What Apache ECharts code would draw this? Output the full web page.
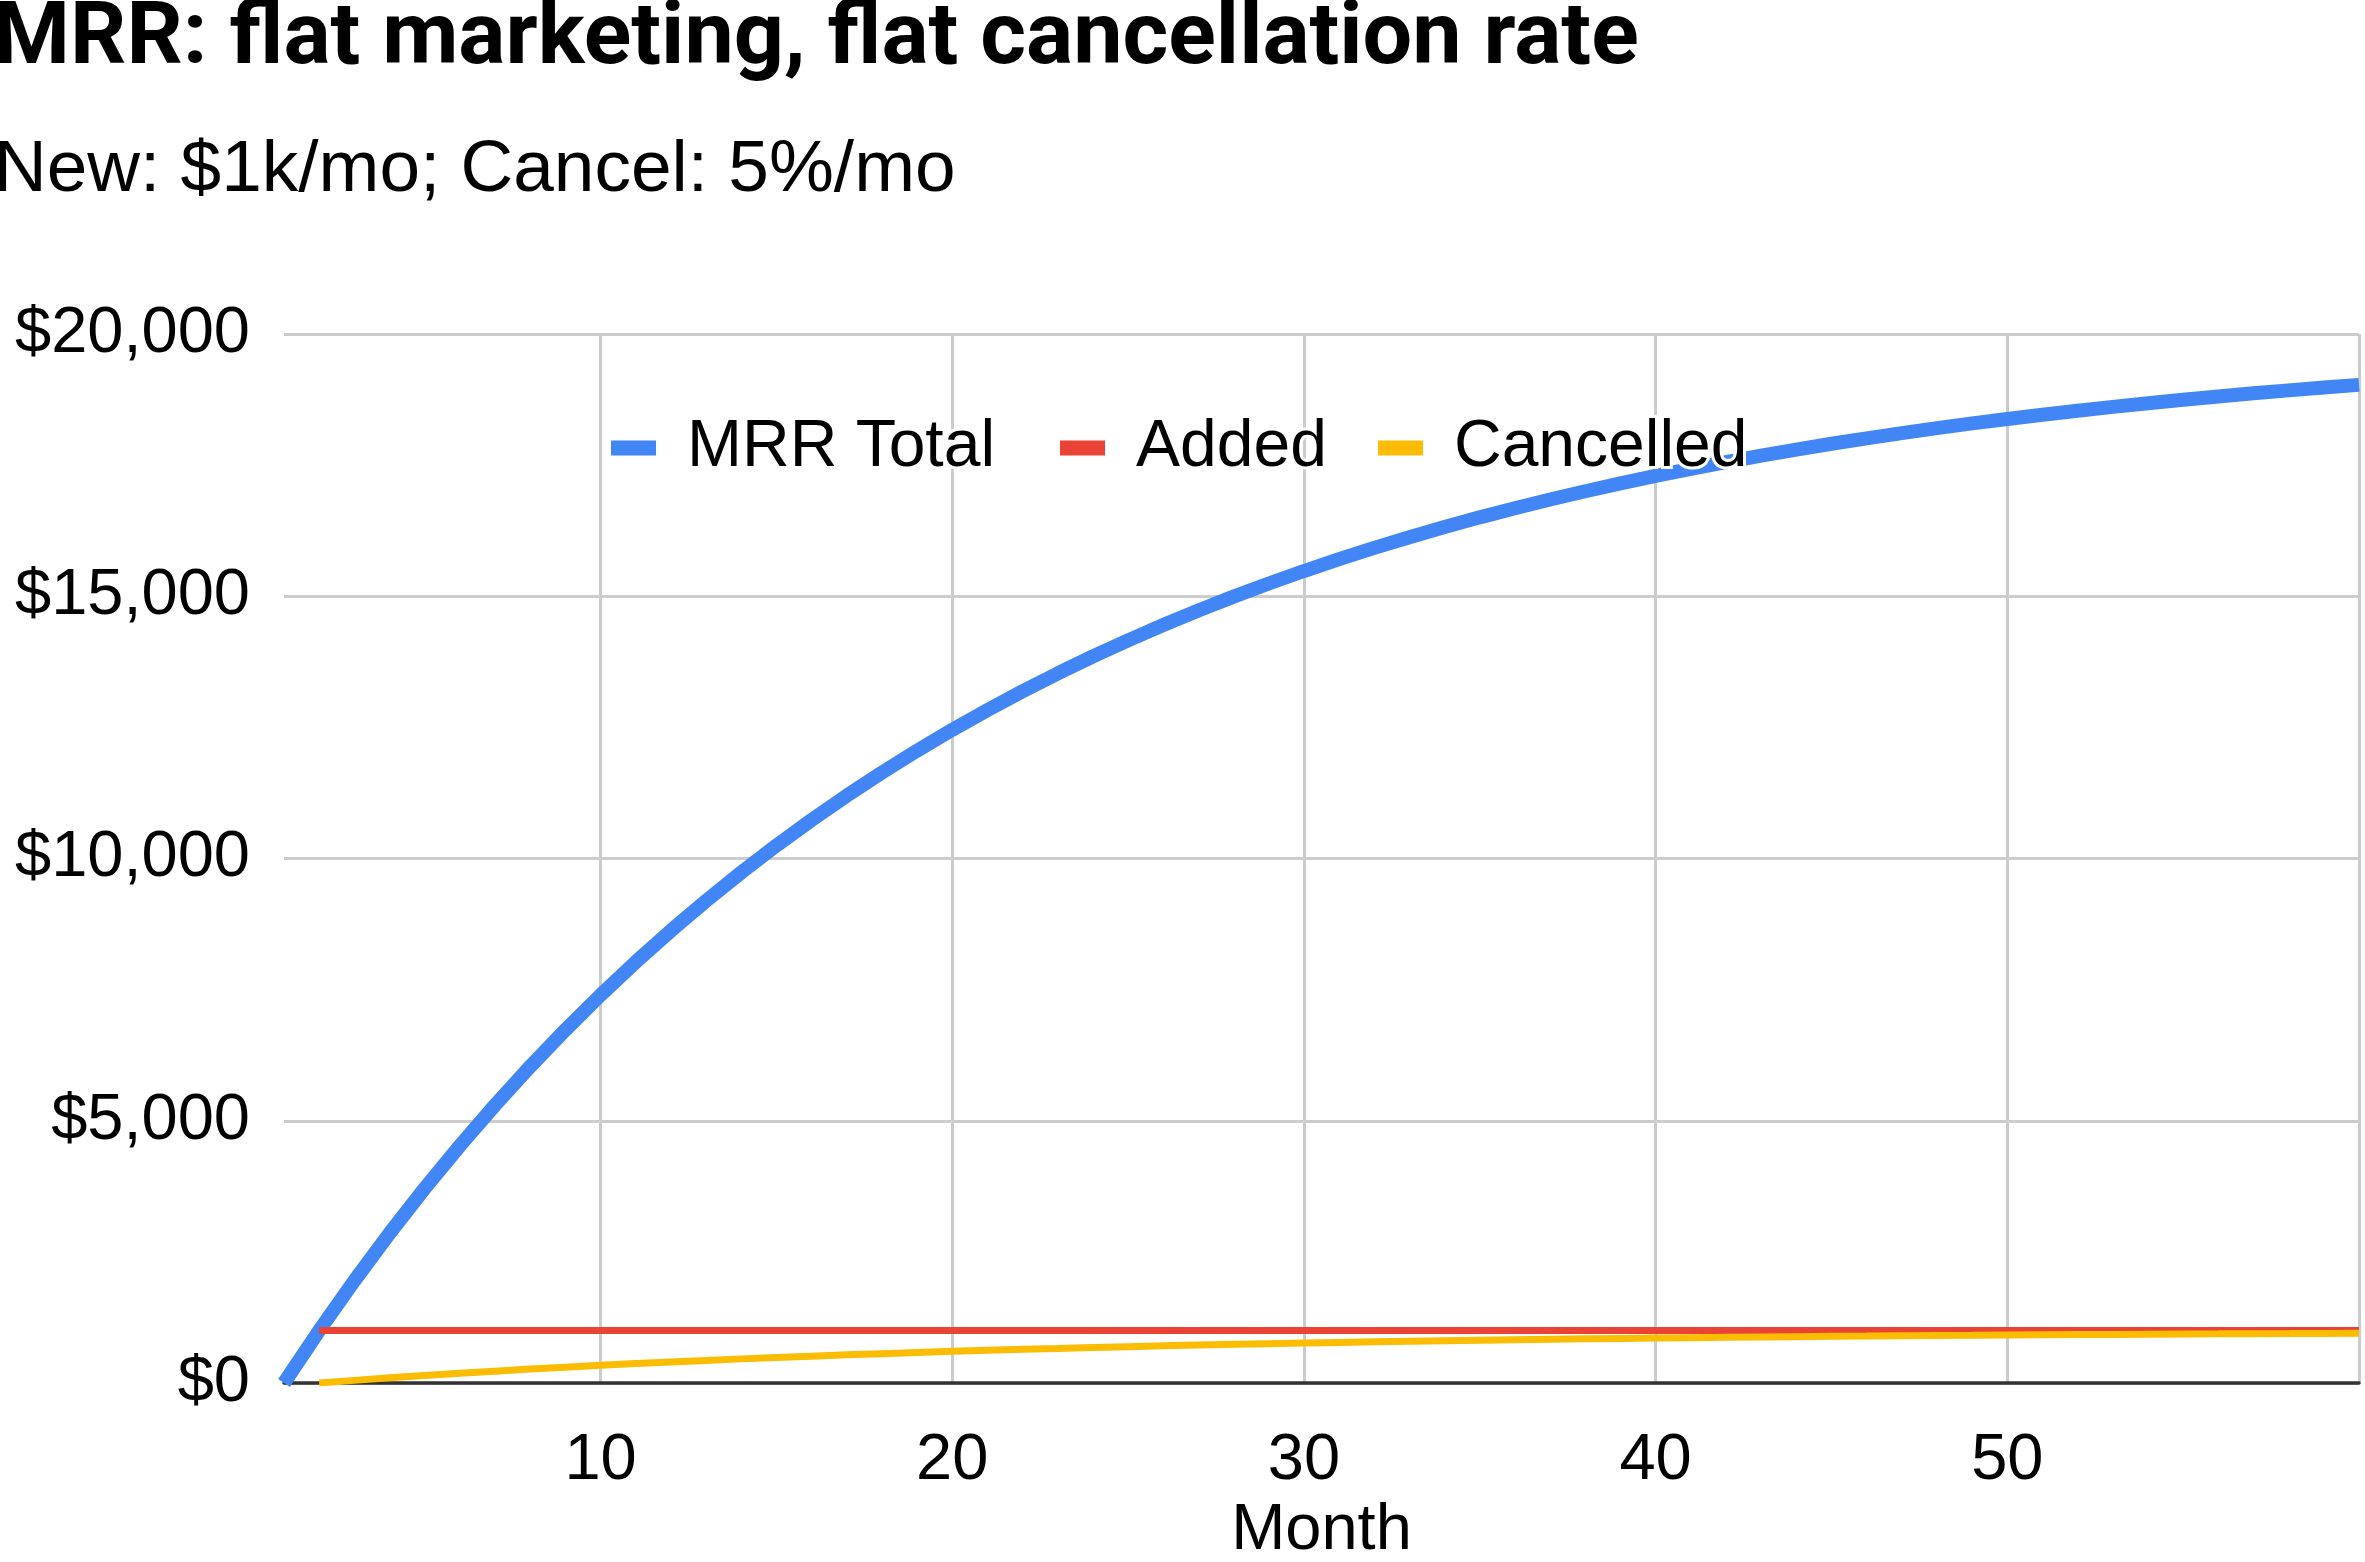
<!DOCTYPE html>
<html>
<head>
<meta charset="utf-8">
<script src="https://cdn.jsdelivr.net/npm/echarts@6/dist/echarts.min.js"></script>
<style>
html,body{margin:0;padding:0;background:#fff;overflow:hidden;}
#chart{width:2365px;height:1562px;}
</style>
</head>
<body>
<div id="chart"></div>
<script>
const titleText = 'MRR: flat marketing, flat cancellation rate';
const subtitleText = 'New: $1k/mo; Cancel: 5%/mo';
const seriesNames = ['MRR Total', 'Added', 'Cancelled'];
const months = [1,2,3,4,5,6,7,8,9,10,11,12,13,14,15,16,17,18,19,20,21,22,23,24,25,26,27,28,29,30,31,32,33,34,35,36,37,38,39,40,41,42,43,44,45,46,47,48,49,50,51,52,53,54,55,56,57,58,59,60];
const mrrTotal = [0,1000,1950,2853,3710,4524,5298,6033,6732,7395,8025,8624,9193,9733,10247,10734,11197,11638,12056,12453,12830,13189,13529,13853,14160,14452,14730,14993,15243,15481,15707,15922,16126,16319,16504,16678,16844,17002,17152,17294,17430,17558,17680,17796,17907,18011,18111,18205,18295,18380,18461,18538,18611,18681,18747,18809,18869,18925,18979,19030];
const added = [null,1000,1000,1000,1000,1000,1000,1000,1000,1000,1000,1000,1000,1000,1000,1000,1000,1000,1000,1000,1000,1000,1000,1000,1000,1000,1000,1000,1000,1000,1000,1000,1000,1000,1000,1000,1000,1000,1000,1000,1000,1000,1000,1000,1000,1000,1000,1000,1000,1000,1000,1000,1000,1000,1000,1000,1000,1000,1000,1000];
const cancelled = [null,0,50,98,143,186,226,265,302,337,370,401,431,460,487,512,537,560,582,603,623,642,659,677,693,708,723,737,750,762,774,785,796,806,816,825,834,842,850,858,865,872,878,884,890,895,901,906,910,915,919,923,927,931,934,937,941,943,946,949];
const xTickValues = [10,20,30,40,50,60];
const xLabelValues = [10,20,30,40,50];
const xAxisName = 'Month';

function pairs(arr){
  const out = [];
  for (let i = 0; i < months.length; i++) if (arr[i] !== null) out.push([months[i], arr[i]]);
  return out;
}

const FONT = '"Liberation Sans", Arial, sans-serif';
const legendLefts = [611, 1060, 1378];
function legendFor(i){
  return {
    left: legendLefts[i], top: 412, padding: 0,
    itemWidth: 45, itemHeight: 15,
    icon: 'rect',
    data: [seriesNames[i]],
    textStyle: {fontFamily: FONT, fontSize: 66, color: '#000', padding: [0,0,0,26], textBorderColor: '#fff', textBorderWidth: 6, lineHeight: 67},
    z: 10
  };
}

const chart = echarts.init(document.getElementById('chart'), null, {renderer: 'canvas'});
chart.setOption({
  animation: false,
  backgroundColor: '#ffffff',
  title: [
    {text: titleText, left: -7, top: -3, padding: 0, textStyle: {fontFamily: 'Roboto', fontWeight: 'bold', fontSize: 88, color: '#000', lineHeight: 88}},
    {text: subtitleText, left: -6, top: 134, padding: 0, textStyle: {fontFamily: FONT, fontWeight: 'normal', fontSize: 73, color: '#000', lineHeight: 73}}
  ],
  legend: [legendFor(0), legendFor(1), legendFor(2)],
  grid: {left: 284, right: 6, top: 334, bottom: 179, containLabel: false, outerBoundsMode: 'none'},
  xAxis: {
    type: 'value', min: 1, max: 60,
    name: xAxisName, nameLocation: 'middle', nameGap: 111,
    nameTextStyle: {fontFamily: FONT, fontSize: 65, color: '#000'},
    axisLine: {show: true, onZero: false, lineStyle: {color: '#333', width: 3.5}},
    axisTick: {show: false, customValues: xTickValues},
    axisLabel: {customValues: xLabelValues, fontFamily: FONT, fontSize: 65, color: '#000', margin: 46},
    splitLine: {show: true, lineStyle: {color: '#cccccc', width: 3}}
  },
  yAxis: {
    type: 'value', min: 0, max: 20000, interval: 5000,
    axisLine: {show: false}, axisTick: {show: false},
    axisLabel: {fontFamily: FONT, fontSize: 65, color: '#000', margin: 34,
      formatter: v => '$' + v.toLocaleString('en-US')},
    splitLine: {show: true, lineStyle: {color: '#cccccc', width: 3}}
  },
  series: [
    {name: seriesNames[0], type: 'line', data: pairs(mrrTotal), symbol: 'none', color: '#4285F4', lineStyle: {width: 14, color: '#4285F4'}, z: 2},
    {name: seriesNames[1], type: 'line', data: pairs(added), symbol: 'none', color: '#EA4335', lineStyle: {width: 7, color: '#EA4335'}, z: 3},
    {name: seriesNames[2], type: 'line', data: pairs(cancelled), symbol: 'none', color: '#FBBC04', lineStyle: {width: 7, color: '#FBBC04'}, z: 4}
  ]
});
</script>
</body>
</html>
